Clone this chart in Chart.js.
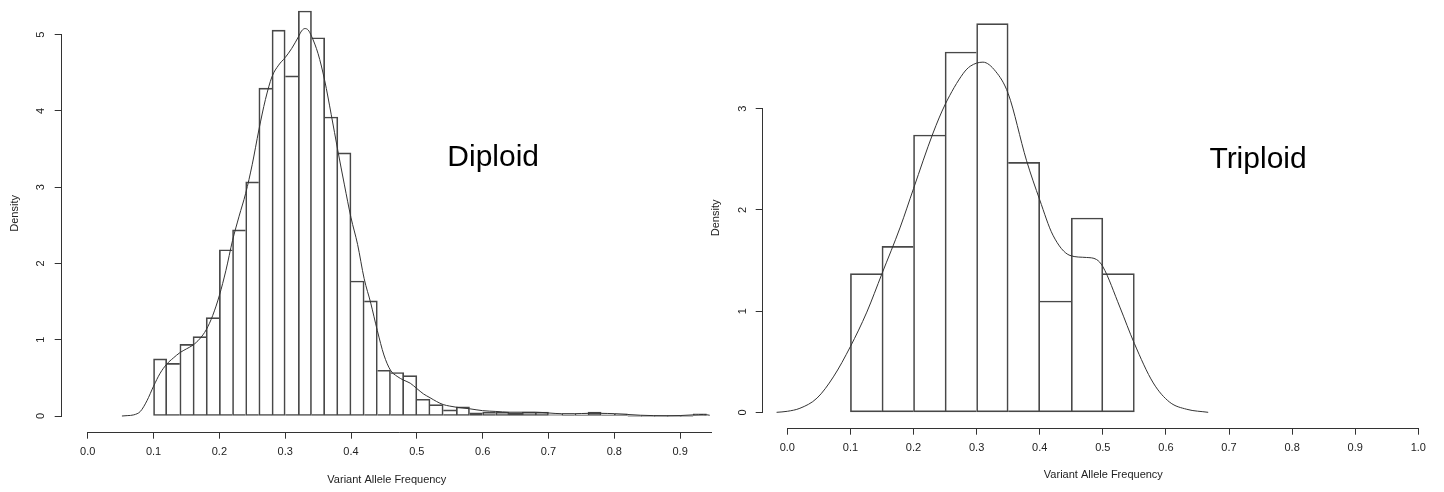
<!DOCTYPE html>
<html><head><meta charset="utf-8">
<script src="https://cdn.jsdelivr.net/npm/chart.js@4.4.1/dist/chart.umd.min.js"></script>
<style>
html,body{margin:0;padding:0;background:#fff;width:1444px;height:492px;overflow:hidden;position:relative}
canvas{position:absolute}
#c1{left:0;top:-5px}
#c2{left:700px;top:0}
</style></head><body>
<canvas id="c1" width="712" height="497"></canvas>
<canvas id="c2" width="744" height="492"></canvas>
<script>
// ---------------- data ----------------
const xTitle = 'Variant Allele Frequency';
const yTitle = 'Density';

const diploidLabel = 'Diploid';
const diploidLabelAt = [0.616, 3.38];
const diploidBreaks = [0.10,0.12,0.14,0.16,0.18,0.20,0.22,0.24,0.26,0.28,0.30,0.32,0.34,0.36,0.38,0.40,0.42,0.44,0.46,0.48,0.50,0.52,0.54,0.56,0.58,0.60,0.62,0.64,0.66,0.68,0.70,0.72,0.74,0.76,0.78,0.80,0.82,0.84,0.86,0.88,0.90,0.92,0.94];
const diploidDensity = [0.75,0.69,0.94,1.04,1.29,2.18,2.44,3.07,4.30,5.06,4.46,5.31,4.96,3.92,3.45,1.77,1.51,0.60,0.57,0.53,0.22,0.15,0.08,0.12,0.04,0.05,0.05,0.04,0.05,0.05,0.02,0.03,0.03,0.05,0.03,0.03,0,0,0,0,0,0.03];
const diploidKdeX = [0.052,0.06,0.07,0.08,0.09,0.10,0.11,0.12,0.13,0.14,0.15,0.16,0.17,0.18,0.19,0.20,0.21,0.22,0.23,0.24,0.25,0.26,0.27,0.28,0.29,0.30,0.31,0.32,0.325,0.33,0.335,0.34,0.35,0.36,0.37,0.38,0.39,0.40,0.41,0.42,0.43,0.44,0.45,0.46,0.47,0.48,0.49,0.50,0.51,0.52,0.53,0.54,0.55,0.56,0.58,0.60,0.62,0.64,0.66,0.68,0.70,0.72,0.74,0.76,0.78,0.80,0.82,0.84,0.86,0.88,0.90,0.92,0.935,0.945];
const diploidKdeY = [0.00,0.005,0.015,0.06,0.20,0.39,0.56,0.68,0.76,0.83,0.88,0.93,1.01,1.13,1.32,1.58,1.91,2.30,2.62,2.92,3.30,3.75,4.15,4.45,4.60,4.70,4.82,4.97,5.05,5.08,5.06,4.98,4.75,4.40,3.95,3.48,3.03,2.60,2.25,1.80,1.48,1.12,0.80,0.60,0.52,0.47,0.43,0.36,0.29,0.24,0.19,0.15,0.13,0.115,0.095,0.07,0.06,0.05,0.05,0.05,0.04,0.03,0.03,0.035,0.035,0.03,0.02,0.01,0.005,0.004,0.006,0.015,0.02,0.01];
const diploidXTicks = [0.0,0.1,0.2,0.3,0.4,0.5,0.6,0.7,0.8,0.9,1.0];
const diploidYTicks = [0,1,2,3,4,5];

const triploidLabel = 'Triploid';
const triploidLabelAt = [0.746, 2.50];
const triploidBreaks = [0.10,0.15,0.20,0.25,0.30,0.35,0.40,0.45,0.50,0.55];
const triploidDensity = [1.37,1.64,2.74,3.56,3.84,2.47,1.10,1.92,1.37];
const triploidKdeX = [-0.017,0.0,0.02,0.047,0.073,0.10,0.126,0.15,0.179,0.20,0.231,0.25,0.279,0.29,0.31,0.33,0.35,0.379,0.40,0.421,0.448,0.474,0.49,0.50,0.527,0.55,0.58,0.606,0.633,0.667];
const triploidKdeY = [0.0,0.01,0.04,0.14,0.35,0.65,0.99,1.37,1.83,2.21,2.76,3.04,3.35,3.42,3.46,3.37,3.15,2.49,2.10,1.75,1.55,1.53,1.51,1.44,1.04,0.68,0.29,0.10,0.03,0.0];
const triploidXTicks = [0.0,0.1,0.2,0.3,0.4,0.5,0.6,0.7,0.8,0.9,1.0];
const triploidYTicks = [0,1,2,3];

// ---------------- drawing ----------------
const FAMILY = '"Liberation Sans", Arial, Helvetica, sans-serif';
const LINE = '#333';
const BAR = '#484848';
const TEXT = '#222';

const rStyle = {
  id: 'rStyle',
  afterDatasetsDraw(chart, args, opts) {
    const ctx = chart.ctx, xs = chart.scales.x, ys = chart.scales.y;
    const cx = v => Math.min(Math.max(v, xs.min), xs.max);
    const cy = v => Math.min(Math.max(v, ys.min), ys.max);
    ctx.save();
    ctx.strokeStyle = LINE; ctx.lineWidth = 1;
    ctx.beginPath();
    const yLine = Math.round(xs.top) + 0.5;
    ctx.moveTo(xs.getPixelForValue(cx(opts.xAt[0])), yLine);
    ctx.lineTo(xs.getPixelForValue(cx(opts.xAt[opts.xAt.length - 1])), yLine);
    const xLine = Math.round(ys.right) - 0.5;
    ctx.moveTo(xLine, ys.getPixelForValue(cy(opts.yAt[0])));
    ctx.lineTo(xLine, ys.getPixelForValue(cy(opts.yAt[opts.yAt.length - 1])));
    ctx.stroke();
    ctx.fillStyle = '#000';
    ctx.font = '30px ' + FAMILY;
    ctx.textAlign = 'center'; ctx.textBaseline = 'middle';
    ctx.fillText(opts.text, xs.getPixelForValue(opts.at[0]), ys.getPixelForValue(opts.at[1]));
    ctx.restore();
  }
};

function sideWidths(h) {
  return ctx => {
    const i = ctx.dataIndex;
    if (i === undefined) return 1;
    const prev = i > 0 ? h[i - 1] : -1;
    const next = i < h.length - 1 ? h[i + 1] : -1;
    return {top: 1, bottom: 1, left: h[i] >= prev ? 1 : 0, right: h[i] > next ? 1 : 0};
  };
}

function makeChart(el, p) {
  const centers = p.breaks.slice(0, -1).map((b, i) => (b + p.breaks[i + 1]) / 2);
  const font = {family: FAMILY, size: 11};
  return new Chart(document.getElementById(el), {
    type: 'bar',
    data: {
      datasets: [
        {
          type: 'line',
          data: p.kdeX.map((x, i) => ({x: x, y: p.kdeY[i]})),
          borderColor: LINE, borderWidth: 1, pointRadius: 0,
          cubicInterpolationMode: 'monotone', fill: false, order: 1
        },
        {
          type: 'bar',
          data: centers.map((c, i) => ({x: c, y: p.density[i]})),
          backgroundColor: 'rgba(0,0,0,0)', borderColor: BAR,
          borderWidth: sideWidths(p.density), borderSkipped: false,
          barPercentage: 1, categoryPercentage: 1, grouped: false,
          minBarLength: 1, order: 2
        }
      ]
    },
    options: {
      responsive: false, animation: false, devicePixelRatio: 1, events: [],
      layout: {padding: {top: p.padTop, right: 0, bottom: 0, left: 0}},
      plugins: {
        legend: {display: false}, tooltip: {enabled: false}, title: {display: false},
        rStyle: {xAt: p.xTicks, yAt: p.yTicks, text: p.label, at: p.labelAt}
      },
      scales: {
        x: {
          type: 'linear', min: p.xMin, max: p.xMax, offset: false,
          afterBuildTicks: s => { s.ticks = p.xTicks.filter(v => v >= s.min - 1e-9 && v <= s.max + 1e-9).map(v => ({value: v})); },
          afterFit: s => { s.height = p.xHeight; s.paddingLeft = 0; s.paddingRight = 0; s.paddingTop = 0; s.paddingBottom = 0; },
          border: {display: false},
          grid: {display: true, offset: false, drawOnChartArea: false, drawTicks: true, tickLength: 7, color: LINE, tickColor: LINE, tickWidth: 1},
          ticks: {color: TEXT, font: font, padding: 7, minRotation: 0, maxRotation: 0, autoSkip: false, callback: v => Number(v).toFixed(1)},
          title: {display: true, text: xTitle, color: TEXT, font: font, padding: {top: 0, bottom: p.xTitlePad}}
        },
        y: {
          type: 'linear', min: p.yMin, max: p.yMax, beginAtZero: false,
          afterBuildTicks: s => { s.ticks = p.yTicks.map(v => ({value: v})); },
          afterFit: s => { s.width = p.yWidth; s.paddingTop = 0; s.paddingBottom = 0; s.paddingLeft = 0; s.paddingRight = 0; },
          border: {display: false},
          grid: {display: true, drawOnChartArea: false, drawTicks: true, tickLength: 7, color: LINE, tickColor: LINE, tickWidth: 1},
          ticks: {color: TEXT, font: font, padding: p.yTickPad, minRotation: 90, maxRotation: 90, crossAlign: 'center', autoSkip: false, callback: v => String(v)},
          title: {display: true, text: yTitle, color: TEXT, font: font, padding: {top: p.yTitlePad, bottom: 0}}
        }
      }
    },
    plugins: [rStyle]
  });
}

makeChart('c1', {
  breaks: diploidBreaks, density: diploidDensity, kdeX: diploidKdeX, kdeY: diploidKdeY,
  xTicks: diploidXTicks, yTicks: diploidYTicks, label: diploidLabel, labelAt: diploidLabelAt,
  xMin: -0.0395, xMax: 0.9484, yMin: -0.2058, yMax: 5.520,
  padTop: 0, xHeight: 60.3, yWidth: 61.7, xTitlePad: 5, yTitlePad: 8, yTickPad: 11
});
makeChart('c2', {
  breaks: triploidBreaks, density: triploidDensity, kdeX: triploidKdeX, kdeY: triploidKdeY,
  xTicks: triploidXTicks, yTicks: triploidYTicks, label: triploidLabel, labelAt: triploidLabelAt,
  xMin: -0.039, xMax: 1.0407, yMin: -0.152, yMax: 3.995,
  padTop: 8, xHeight: 64.3, yWidth: 62.7, xTitlePad: 10, yTitlePad: 9.6, yTickPad: 10
});
</script></body></html>
